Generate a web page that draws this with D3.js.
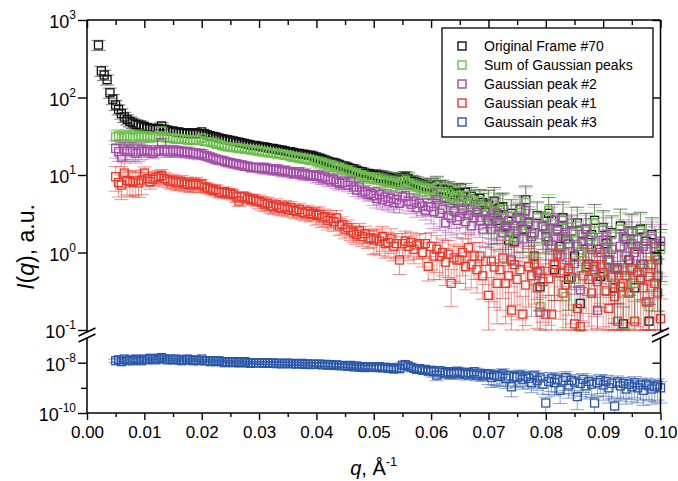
<!DOCTYPE html>
<html><head><meta charset="utf-8">
<script src="https://cdn.jsdelivr.net/npm/d3@7"></script>
<style>body{margin:0;background:#fff}svg{display:block}</style>
</head><body>
<svg id="c" width="678" height="481"></svg>
<script>
// ---------------- DATA ----------------
const q = [0.0020,0.0025,0.0030,0.0035,0.0040,0.0045,
0.0050,0.0055,0.0060,0.0065,0.0070,0.0075,0.0080,0.0085,0.0090,0.0095,
0.0100,0.0105,0.0110,0.0115,0.0120,0.0125,0.0130,0.0135,0.0140,0.0145,
0.0150,0.0155,0.0160,0.0165,0.0170,0.0175,0.0180,0.0185,0.0190,0.0195,
0.0200,0.0205,0.0210,0.0215,0.0220,0.0225,0.0230,0.0235,0.0240,0.0245,
0.0250,0.0255,0.0260,0.0265,0.0270,0.0275,0.0280,0.0285,0.0290,0.0295,
0.0300,0.0305,0.0310,0.0315,0.0320,0.0325,0.0330,0.0335,0.0340,0.0345,
0.0350,0.0355,0.0360,0.0365,0.0370,0.0375,0.0380,0.0385,0.0390,0.0395,
0.0400,0.0405,0.0410,0.0415,0.0420,0.0425,0.0430,0.0435,0.0440,0.0445,
0.0450,0.0455,0.0460,0.0465,0.0470,0.0475,0.0480,0.0485,0.0490,0.0495,
0.0500,0.0505,0.0510,0.0515,0.0520,0.0525,0.0530,0.0535,0.0540,0.0545,
0.0550,0.0555,0.0560,0.0565,0.0570,0.0575,0.0580,0.0585,0.0590,0.0595,
0.0600,0.0605,0.0610,0.0615,0.0620,0.0625,0.0630,0.0635,0.0640,0.0645,
0.0650,0.0655,0.0660,0.0665,0.0670,0.0675,0.0680,0.0685,0.0690,0.0695,
0.0700,0.0705,0.0710,0.0715,0.0720,0.0725,0.0730,0.0735,0.0740,0.0745,
0.0750,0.0755,0.0760,0.0765,0.0770,0.0775,0.0780,0.0785,0.0790,0.0795,
0.0800,0.0805,0.0810,0.0815,0.0820,0.0825,0.0830,0.0835,0.0840,0.0845,
0.0850,0.0855,0.0860,0.0865,0.0870,0.0875,0.0880,0.0885,0.0890,0.0895,
0.0900,0.0905,0.0910,0.0915,0.0920,0.0925,0.0930,0.0935,0.0940,0.0945,
0.0950,0.0955,0.0960,0.0965,0.0970,0.0975,0.0980,0.0985,0.0990,0.0995,
0.1000];

const originalFrame = [475,220,195,170,115,95,
80,70,62,56,52,49,47,45,44,43,
42,41,40,40,39,40,43,39,38,37,
37,36,36,35,35,35,34,35,35,34,
36,34,33,32,31.5,31,30,29.5,29,28.5,
28,27.5,27,26.5,26,25.5,25,24.5,24,24,
23.5,23,23,22.5,22,22,21.5,21,21,20.5,
20,20,19.5,19,19,18.5,18.5,18,18,17.5,
17,16.5,16,15.5,15,14.5,14.5,14,13.5,13,
13,12.5,12,12,11.5,11,11,10.5,10.5,10,
10,9.8,9.6,9.6,9.3,9.2,9.0,8.8,8.7,8.6,
9.2,9.4,9.0,8.4,8.2,8.0,7.7,7.5,7.3,7.2,
7.0,6.9,7.4,6.5,6.6,6.2,6.3,5.9,5.6,6.0,
5.8,5.2,6.0,4.6,5.3,4.9,3.6,5.0,4.4,3.3,
4.2,3.0,4.6,2.6,3.8,3.9,2.2,1.45,3.2,1.38,
2.8,3.6,2.0,4.8,2.4,1.8,0.9,3.0,0.36,2.2,
1.6,3.2,2.6,0.6,2.0,1.2,2.8,1.5,0.45,1.9,
0.9,2.4,0.22,1.4,2.0,0.7,1.7,2.6,1.1,0.49,
2.1,1.3,0.8,1.8,0.35,0.63,2.2,0.12,1.5,0.8,
1.9,0.35,1.2,2.0,0.7,1.4,0.13,1.7,0.9,0.5,
1.2];

const sumGaussian = [null,null,null,null,null,null,
31,32,30,31,32,31,30,31,32,31,
31,32,30,31,31,32,37,31,30,30,
30,29,29.5,29,29,28.5,28,28,28.5,28,
30,27,27,26.5,26,25,25,24,23.5,23,
23,22.5,22.5,22,22,21.5,21.5,21,21,20.5,
20.5,20,20,19.5,19.5,19,19,18.5,18.5,18,
18,17.5,17,17,16.5,16.5,16,16,15.5,15.5,
15,14.5,14.5,14,13.5,13.5,13,12.5,12.5,12,
11.5,11.5,11,10.5,10.5,10,9.8,9.5,9.2,9.0,
8.8,8.7,8.6,8.4,8.2,8.0,7.9,7.8,7.6,7.5,
8.2,8.4,7.9,7.4,7.2,7.0,6.8,6.6,6.8,6.4,
6.6,6.2,6.9,5.8,6.1,5.6,5.8,5.2,5.0,5.5,
5.2,4.6,5.4,4.2,4.8,4.5,3.4,4.6,3.9,3.0,
3.8,2.8,4.2,2.4,3.5,3.6,2.0,1.6,2.9,1.5,
2.6,3.3,1.9,4.4,2.2,1.7,0.85,2.8,0.2,2.1,
1.5,3.5,2.4,0.7,1.9,1.1,2.6,0.27,1.5,1.8,
0.45,2.2,1.0,1.3,1.9,0.65,1.6,2.4,1.0,0.55,
2.0,1.2,0.75,1.7,0.4,0.6,2.0,0.3,1.4,0.3,
1.8,0.4,1.1,1.9,0.65,1.3,0.2,1.6,0.85,0.5,
1.1];

const gaussPeak2 = [null,null,null,null,null,null,
22,20,17,21,20,21,20,19,20,21,
20,21,20,19,20,21,26,21,20,20,
21,20,20.5,20,19.5,20,19.5,19,19,18.5,
19,18,17.5,17,16.5,16,15.5,15.5,15,14.5,
14.5,14,14,13.5,13.5,13,13,12.5,12.5,12.5,
12.5,12,12.5,12,12,11.5,12,11.5,11,11.5,
11,11,10.5,10.5,11,10,10.5,10,9.8,10,
9.6,9.8,9.2,9.4,8.8,8.6,8.8,8.2,7.8,8.0,
8.0,7.4,8.2,7.0,6.4,7.0,6.0,6.2,5.6,5.8,
5.4,5.0,5.6,4.8,5.2,4.6,5.0,4.4,4.8,4.3,
5.2,5.4,4.6,4.2,4.5,3.8,4.3,4.0,3.5,3.9,
3.9,3.4,4.8,3.2,3.6,2.4,3.0,2.8,3.4,2.6,
2.9,3.5,2.5,3.0,2.2,2.8,3.3,2.6,2.0,3.4,
2.6,2.0,2.8,3.2,2.4,1.8,2.1,2.6,0.8,2.2,
1.9,2.8,1.5,3.5,2.5,1.6,1.8,0.55,0.17,2.2,
2.0,1.4,1.24,2.6,1.9,0.9,1.6,1.8,1.3,2.4,
0.72,1.2,0.33,1.7,2.0,1.45,1.1,0.66,0.18,1.0,
1.45,1.7,0.8,1.1,0.63,0.13,1.2,1.6,0.9,1.9,
1.3,1.0,1.5,0.7,1.2,1.1,0.23,1.5,1.3,0.8,
1.4];

const gaussPeak1 = [null,null,null,null,null,null,
9.5,8.0,7.4,10.6,8.5,8.2,8.0,8.4,7.9,8.6,
10.6,9.0,8.2,8.8,9.2,9.5,9.8,9.0,8.6,8.2,
8.4,8.0,7.9,8.2,7.6,7.8,7.4,7.6,7.8,7.4,
7.6,7.0,6.8,6.6,6.3,6.5,6.0,5.9,6.1,5.8,
5.8,5.6,5.2,4.6,5.3,5.2,5.0,4.8,4.9,4.6,
4.6,4.4,4.2,4.3,4.0,3.9,4.1,3.8,3.7,3.9,
3.6,3.8,3.5,3.4,3.6,3.3,3.2,3.4,3.1,3.2,
3.0,3.1,2.8,2.9,2.6,2.75,2.5,2.8,2.2,2.3,
2.0,2.1,1.9,1.8,1.7,1.9,1.6,1.75,1.5,1.55,
1.45,1.5,1.4,1.6,1.3,1.35,1.5,1.2,1.3,0.8,
1.3,1.4,1.2,1.35,1.1,1.25,1.3,1.0,1.3,0.66,
1.2,0.9,1.1,0.89,1.0,0.75,0.95,0.4,0.85,0.8,
0.8,1.0,0.66,1.15,0.7,0.9,0.6,0.9,0.5,0.77,
0.28,0.77,0.65,0.4,0.6,0.85,0.4,0.5,0.18,0.7,
0.45,0.6,0.16,0.38,0.66,0.5,0.72,0.35,0.58,0.42,
0.16,0.46,0.16,0.7,0.95,0.55,0.3,0.38,0.62,0.48,
0.12,0.19,0.11,0.5,0.65,0.45,0.3,0.6,0.42,0.7,
0.55,0.32,0.19,0.48,0.27,0.6,0.36,0.4,0.5,0.3,
0.62,0.13,0.55,0.45,0.35,0.23,0.49,0.7,0.4,0.3,
0.14];

const gaussPeak3 = [null,null,null,null,null,null,
12e-9,13e-9,11e-9,14e-9,12e-9,13e-9,12e-9,14e-9,13e-9,12e-9,
14e-9,13e-9,15e-9,14e-9,13e-9,15e-9,16e-9,14e-9,13e-9,14e-9,
13e-9,14e-9,13e-9,12e-9,13e-9,14e-9,13e-9,12e-9,13e-9,12e-9,
14e-9,12e-9,12e-9,11e-9,12e-9,11e-9,12e-9,11e-9,10e-9,11e-9,
11e-9,10e-9,11e-9,10e-9,10e-9,11e-9,10e-9,9.5e-9,10e-9,9.8e-9,
10e-9,9.6e-9,9.8e-9,10e-9,9.4e-9,9.8e-9,9.2e-9,9.6e-9,9.0e-9,9.4e-9,
9.6e-9,9.0e-9,9.4e-9,8.8e-9,9.2e-9,9.4e-9,8.6e-9,9.0e-9,8.4e-9,8.8e-9,
8.6e-9,8.8e-9,8.2e-9,8.6e-9,8.0e-9,8.4e-9,7.8e-9,8.2e-9,7.6e-9,7.8e-9,
7.6e-9,7.2e-9,7.8e-9,6.8e-9,7.4e-9,6.6e-9,7.0e-9,6.4e-9,6.8e-9,6.6e-9,
6.8e-9,6.4e-9,7.0e-9,6.2e-9,6.6e-9,6.0e-9,6.4e-9,5.6e-9,6.2e-9,5.8e-9,
8.0e-9,8.4e-9,7.4e-9,6.6e-9,6.0e-9,5.4e-9,5.8e-9,5.0e-9,5.4e-9,4.6e-9,
5.0e-9,4.4e-9,3.2e-9,4.8e-9,4.2e-9,3.9e-9,4.4e-9,3.6e-9,4.0e-9,4.6e-9,
3.8e-9,4.2e-9,3.4e-9,4.0e-9,3.6e-9,4.4e-9,3.2e-9,3.8e-9,3.0e-9,3.6e-9,
3.4e-9,2.6e-9,3.2e-9,3.0e-9,2.8e-9,3.6e-9,2.4e-9,3.0e-9,1.1e-9,2.8e-9,
2.6e-9,3.2e-9,2.2e-9,2.8e-9,2.4e-9,1.6e-9,3.0e-9,2.0e-9,2.5e-9,1.4e-9,
0.25e-9,1.8e-9,2.4e-9,1.6e-9,2.2e-9,0.8e-9,1.9e-9,2.6e-9,1.3e-9,2.0e-9,
1.7e-9,0.45e-9,1.5e-9,2.2e-9,1.2e-9,1.8e-9,1.4e-9,0.25e-9,1.6e-9,2.0e-9,
1.3e-9,1.8e-9,1.0e-9,1.5e-9,0.19e-9,1.7e-9,1.2e-9,1.5e-9,0.9e-9,1.4e-9,
1.1e-9,1.6e-9,1.0e-9,1.3e-9,0.8e-9,1.4e-9,1.2e-9,0.9e-9,1.1e-9,1.3e-9,
1.0e-9];

// relative error read per 0.01-wide q band (0-0.01 ... 0.09-0.10)
const errOriginal = [0.15,0.10,0.08,0.10,0.12,0.18,0.30,0.50,0.60,0.65];
const errSum      = [0.20,0.12,0.10,0.12,0.15,0.22,0.35,0.55,0.60,0.65];
const errPeak2    = [0.25,0.15,0.12,0.14,0.18,0.25,0.40,0.55,0.60,0.65];
const errPeak1    = [0.35,0.20,0.15,0.20,0.25,0.35,0.50,0.70,0.75,0.80];
const errPeak3    = [0.15,0.10,0.10,0.12,0.15,0.25,0.40,0.60,0.70,0.75];

const seriesNames = ["Original Frame #70","Sum of Gaussian peaks","Gaussian peak #2","Gaussian peak #1","Gaussain peak #3"];

const xTicks = [0,0.01,0.02,0.03,0.04,0.05,0.06,0.07,0.08,0.09,0.10];
const xTickLabels = ["0.00","0.01","0.02","0.03","0.04","0.05","0.06","0.07","0.08","0.09","0.10"];
const xMinorTicks = [0.005,0.015,0.025,0.035,0.045,0.055,0.065,0.075,0.085,0.095];
const yTicksUpper = [0.1,1,10,100,1000];
const yExpUpper = ["-1","0","1","2","3"];
const yTicksLower = [1e-10,1e-8];
const yExpLower = ["-10","-8"];
const yMinorLower = [1e-9];

// ---------------- CHART ----------------
const svg = d3.select("#c");
const FONT = "'Liberation Sans', Arial, Helvetica, sans-serif";
const L = 87, R = 660.5, T = 20, B = 413;
const x = d3.scaleLinear().domain([0, 0.1]).range([L, R]);
const yU = d3.scaleLog().domain([0.1, 1000]).range([330, T]);
const yL = d3.scaleLog().domain([1e-10, 8e-8]).range([B, 340]);

const colors = ["#111111","#6cbf4a","#a24ca8","#e8392b","#2a56a8"];
const data = [originalFrame, sumGaussian, gaussPeak2, gaussPeak1, gaussPeak3];
const errs = [errOriginal, errSum, errPeak2, errPeak1, errPeak3];
const scales = [yU, yU, yU, yU, yL];

const plot = svg.append("g");
const half = 4, cap = 7;
data.forEach((vals, s) => {
  const y = scales[s];
  const [dmin, dmax] = y.domain();
  const pts = q.map((qq, i) => ({q: qq, v: vals[i]})).filter(d => d.v != null);
  const g = plot.append("g");
  const eg = g.append("g").attr("stroke", colors[s]).attr("stroke-opacity", 0.55).attr("stroke-width", 1);
  pts.forEach(d => {
    const r = errs[s][Math.min(9, Math.floor(d.q / 0.01 + 1e-9))];
    const lo = d.v * (1 - r), hi = d.v * (1 + r);
    const cx = x(d.q), cy = y(d.v);
    const yLo = lo <= dmin ? y(dmin) : y(lo);
    const yHi = hi >= dmax ? y(dmax) : y(hi);
    if (yLo > cy + half) {
      eg.append("line").attr("x1", cx).attr("x2", cx).attr("y1", cy + half).attr("y2", yLo);
    }
    if (yHi < cy - half) {
      eg.append("line").attr("x1", cx).attr("x2", cx).attr("y1", cy - half).attr("y2", yHi);
    }
    eg.append("line").attr("x1", cx - cap).attr("x2", cx + cap).attr("y1", yLo).attr("y2", yLo);
    eg.append("line").attr("x1", cx - cap).attr("x2", cx + cap).attr("y1", yHi).attr("y2", yHi);
  });
  g.append("g").selectAll("rect").data(pts).join("rect")
    .attr("x", d => x(d.q) - half).attr("y", d => y(d.v) - half)
    .attr("width", half * 2).attr("height", half * 2)
    .attr("fill", "none").attr("stroke", colors[s]).attr("stroke-width", 1.3);
});

// ---------------- AXES ----------------
function style(g) {
  g.select(".domain").remove();
  g.selectAll("line").attr("stroke", "#000").attr("stroke-width", 1.4);
  g.selectAll("text").attr("font-family", FONT).attr("fill", "#000");
}
svg.append("g").attr("transform", `translate(0,${B})`)
  .call(d3.axisBottom(x).tickValues(xTicks).tickSize(7).tickPadding(6).tickFormat((d, i) => xTickLabels[i]))
  .call(style).call(g => g.selectAll("text").attr("font-size", 17));
svg.append("g").attr("transform", `translate(0,${B})`)
  .call(d3.axisBottom(x).tickValues(xMinorTicks).tickSize(4).tickFormat("")).call(style);
svg.append("g").attr("transform", `translate(0,${T})`)
  .call(d3.axisTop(x).tickValues(xTicks).tickSize(-8).tickFormat("")).call(style);
svg.append("g").attr("transform", `translate(0,${T})`)
  .call(d3.axisTop(x).tickValues(xMinorTicks).tickSize(-5).tickFormat("")).call(style);

svg.append("g").attr("transform", `translate(${L},0)`)
  .call(d3.axisLeft(yU).tickValues(yTicksUpper).tickSize(9).tickFormat("")).call(style);
svg.append("g").attr("transform", `translate(${R},0)`)
  .call(d3.axisRight(yU).tickValues(yTicksUpper.slice(1)).tickSize(-8).tickFormat("")).call(style);
svg.append("g").attr("transform", `translate(${L},0)`)
  .call(d3.axisLeft(yL).tickValues(yTicksLower).tickSize(9).tickFormat("")).call(style);
svg.append("g").attr("transform", `translate(${L},0)`)
  .call(d3.axisLeft(yL).tickValues(yMinorLower).tickSize(6).tickFormat("")).call(style);
svg.append("g").attr("transform", `translate(${R},0)`)
  .call(d3.axisRight(yL).tickValues([1e-8]).tickSize(-8).tickFormat("")).call(style);

function powLabel(yv, exp) {
  const t = svg.append("text").attr("x", 76).attr("y", yv + 8).attr("text-anchor", "end")
    .attr("font-family", FONT).attr("fill", "#000");
  t.append("tspan").attr("font-size", 18).text("10");
  t.append("tspan").attr("font-size", 12).attr("dy", -9).text(exp);
}
yTicksUpper.forEach((v, i) => powLabel(yU(v), yExpUpper[i]));
yTicksLower.forEach((v, i) => powLabel(yL(v), yExpLower[i]));

// frame with axis breaks
const frame = svg.append("g").attr("stroke", "#000").attr("stroke-width", 1.5).attr("fill", "none");
frame.append("line").attr("x1", L).attr("x2", R).attr("y1", T).attr("y2", T);
frame.append("line").attr("x1", L).attr("x2", R).attr("y1", B).attr("y2", B);
[L, R].forEach(xx => {
  frame.append("line").attr("x1", xx).attr("x2", xx).attr("y1", T).attr("y2", 332);
  frame.append("line").attr("x1", xx).attr("x2", xx).attr("y1", 338).attr("y2", B);
  frame.append("line").attr("x1", xx - 8.5).attr("x2", xx + 8.5).attr("y1", 336).attr("y2", 328);
  frame.append("line").attr("x1", xx - 8.5).attr("x2", xx + 8.5).attr("y1", 342).attr("y2", 334);
});

// axis titles
const xt = svg.append("text").attr("x", (L + R) / 2).attr("y", 475).attr("text-anchor", "middle")
  .attr("font-family", FONT).attr("font-size", 20).attr("fill", "#000");
xt.append("tspan").attr("font-style", "italic").text("q");
xt.append("tspan").text(", Å");
xt.append("tspan").attr("font-size", 13).attr("dy", -9).text("-1");

const yt = svg.append("text").attr("transform", "translate(34,247) rotate(-90)").attr("text-anchor", "middle")
  .attr("font-family", FONT).attr("font-size", 23).attr("fill", "#000");
yt.append("tspan").attr("font-style", "italic").text("I");
yt.append("tspan").text("(");
yt.append("tspan").attr("font-style", "italic").text("q");
yt.append("tspan").text("), a.u.");

// legend
const lg = svg.append("g");
lg.append("rect").attr("x", 442).attr("y", 28).attr("width", 211).attr("height", 109)
  .attr("fill", "#fff").attr("stroke", "#000").attr("stroke-width", 1.3);
seriesNames.forEach((n, i) => {
  const yy = 46 + i * 19;
  lg.append("rect").attr("x", 458).attr("y", yy - 4).attr("width", 8).attr("height", 8)
    .attr("fill", "none").attr("stroke", colors[i]).attr("stroke-width", 1.4);
  lg.append("text").attr("x", 484).attr("y", yy + 5).attr("font-family", FONT)
    .attr("font-size", 14).attr("fill", "#000").text(n);
});
</script>
</body></html>
